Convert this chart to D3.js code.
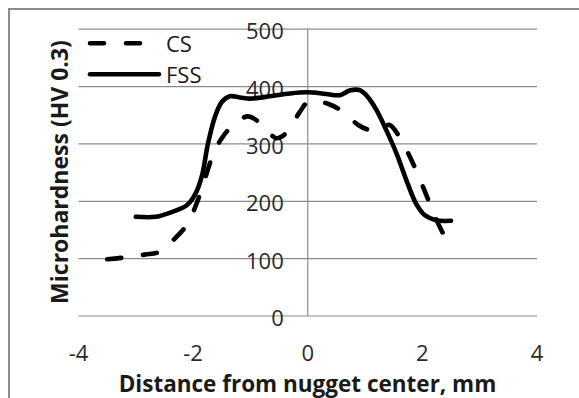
<!DOCTYPE html>
<html>
<head>
<meta charset="utf-8">
<script src="https://cdn.jsdelivr.net/npm/d3@7"></script>
<style>
  body { margin: 0; background: #fff; }
  svg { display: block; }
  text { font-family: "Open Sans", "Liberation Sans", sans-serif; }
</style>
</head>
<body>
<svg id="chart" width="579" height="398"></svg>
<script>
// values
const csX = [-3.5, -3.2, -2.85, -2.58, -2.35, -2.11, -1.94, -1.8, -1.65, -1.5, -1.33, -1.05, -0.85, -0.7, -0.55, -0.45, -0.3, -0.15, 0.03, 0.35, 0.62, 0.88, 1.05, 1.15, 1.3, 1.43, 1.6, 1.78, 1.95, 2.08, 2.22, 2.39];
const csY = [99, 102, 107, 112, 132, 159, 196, 237, 282, 310, 330, 348, 338, 322, 310, 313, 328, 354, 375, 370, 356, 333, 325, 324, 328, 333, 312, 278, 240, 208, 173, 138];

const fssX = [-3.0, -2.65, -2.35, -2.11, -1.97, -1.85, -1.74, -1.62, -1.5, -1.36, -1.18, -1.0, -0.66, -0.31, 0, 0.32, 0.56, 0.73, 0.9, 1.02, 1.2, 1.37, 1.55, 1.72, 1.89, 2.04, 2.24, 2.5];
const fssY = [173, 173, 182, 193, 211, 243, 301, 347, 373, 383, 381, 379, 383, 388, 390, 387, 385, 393, 394, 385, 359, 324, 283, 237, 196, 176, 167, 166];

const xTicks = [-4, -2, 0, 2, 4];
const yTicks = [0, 100, 200, 300, 400, 500];

const seriesNames = ["CS", "FSS"];

const width = 579;
const height = 398;

const svg = d3.select("#chart");

const x = d3.scaleLinear().domain([-4, 4]).range([78.5, 537]);
const y = d3.scaleLinear().domain([0, 500]).range([316, 29.2]);

// outer frame (only left and top edges show)
svg.append("path")
    .attr("d", `M9,${height} L9,9 L${width},9`)
    .attr("fill", "none")
    .attr("stroke", "#8c8c8c")
    .attr("stroke-width", 2);

// horizontal gridlines
svg.selectAll(".grid")
    .data(yTicks)
    .enter()
    .append("line")
    .attr("class", "grid")
    .attr("x1", x(-4))
    .attr("x2", x(4))
    .attr("y1", d => y(d))
    .attr("y2", d => y(d))
    .attr("stroke", "#8c8c8c")
    .attr("stroke-width", 1.2);

// vertical axis sits at x = 0
svg.append("line")
    .attr("x1", x(0))
    .attr("x2", x(0))
    .attr("y1", y(500))
    .attr("y2", y(0))
    .attr("stroke", "#8c8c8c")
    .attr("stroke-width", 1.2);

// y tick labels, drawn next to the centre axis
svg.selectAll(".ylabel")
    .data(yTicks)
    .enter()
    .append("text")
    .attr("class", "ylabel")
    .attr("x", x(0) - 24)
    .attr("y", d => y(d) + 1)
    .attr("text-anchor", "end")
    .attr("dominant-baseline", "central")
    .attr("fill", "#2a2a2a")
    .style("font-size", "22px")
    .text(d => d);

// x tick labels
svg.selectAll(".xlabel")
    .data(xTicks)
    .enter()
    .append("text")
    .attr("class", "xlabel")
    .attr("x", d => x(d))
    .attr("y", 352)
    .attr("text-anchor", "middle")
    .attr("dominant-baseline", "central")
    .attr("fill", "#2a2a2a")
    .style("font-size", "22px")
    .text(d => d);

// axis titles
svg.append("text")
    .attr("x", 307.5)
    .attr("y", 383)
    .attr("text-anchor", "middle")
    .attr("dominant-baseline", "central")
    .attr("fill", "#1a1a1a")
    .style("font-size", "22.5px")
    .style("font-weight", "bold")
    .text("Distance from nugget center, mm");

svg.append("text")
    .attr("transform", "translate(59,172) rotate(-90)")
    .attr("text-anchor", "middle")
    .attr("dominant-baseline", "central")
    .attr("fill", "#1a1a1a")
    .style("font-size", "23px")
    .style("font-weight", "bold")
    .text("Microhardness (HV 0.3)");

// the two curves
const line = d3.line()
    .x(d => x(d[0]))
    .y(d => y(d[1]))
    .curve(d3.curveCatmullRom.alpha(0.5));

const csData = csX.map((v, i) => [v, csY[i]]);
const fssData = fssX.map((v, i) => [v, fssY[i]]);

svg.append("path")
    .datum(fssData)
    .attr("d", line)
    .attr("fill", "none")
    .attr("stroke", "#000")
    .attr("stroke-width", 4.6)
    .attr("stroke-linecap", "round")
    .attr("stroke-linejoin", "round");

svg.append("path")
    .datum(csData)
    .attr("d", line)
    .attr("fill", "none")
    .attr("stroke", "#000")
    .attr("stroke-width", 4.6)
    .attr("stroke-linecap", "round")
    .attr("stroke-linejoin", "round")
    .attr("stroke-dasharray", "14,22");

// legend
const legend = svg.append("g");
const legendRows = [
    {name: seriesNames[0], y: 43.3, x2: 143, dash: "14,22"},
    {name: seriesNames[1], y: 74.3, x2: 159, dash: null}
];
legendRows.forEach(r => {
    legend.append("line")
        .attr("x1", 90)
        .attr("x2", r.x2)
        .attr("y1", r.y)
        .attr("y2", r.y)
        .attr("stroke", "#000")
        .attr("stroke-width", 4.6)
        .attr("stroke-linecap", "round")
        .attr("stroke-dasharray", r.dash);
    legend.append("text")
        .attr("x", 166)
        .attr("y", r.y)
        .attr("dominant-baseline", "central")
        .attr("fill", "#1a1a1a")
        .style("font-size", "22px")
        .text(r.name);
});
</script>
</body>
</html>
